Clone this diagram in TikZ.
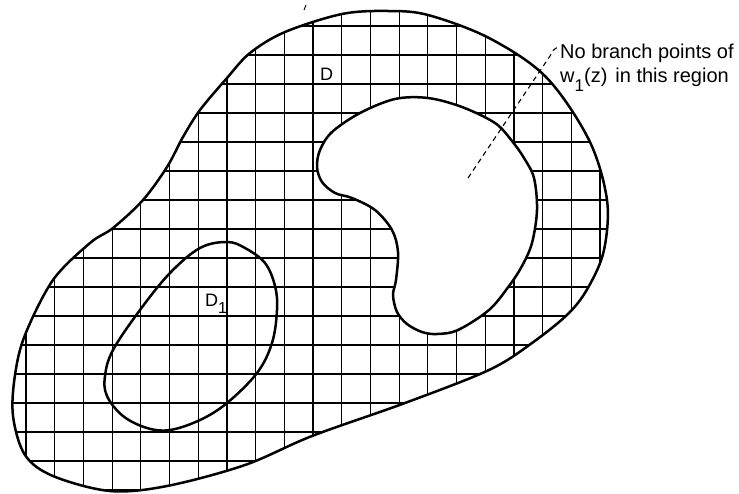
\documentclass[tikz,border=0pt]{standalone}
\usepackage{fontspec}
\setmainfont{Liberation Sans}
\begin{document}
\begin{tikzpicture}[x=1pt,y=-1pt,
  boundary/.style={line width=2.5pt,line join=round},
  gridline/.style={line width=1.2pt},
  leader/.style={line width=1.1pt,dash pattern=on 5pt off 4pt},
  lbl/.style={inner sep=0pt,anchor=base west,font=\fontsize{20}{24}\selectfont},
  dlbl/.style={inner sep=0pt,anchor=base west,font=\fontsize{18}{22}\selectfont}]
\useasboundingbox (0,0) rectangle (739,493);
\def\outerpath{plot[smooth cycle,tension=0.55] coordinates {
 (110,491) (53,476) (25,455) (13,416) (15,375) (25,335) (53,280) (90,243)
 (113,228) (143,200) (167,167) (183,137) (200,110) (227,78) (250,53) (285,32)
 (342,14) (388,11) (428,15) (489,38) (546,77) (589,140) (607,200) (604,250)
 (589,286) (569,313) (532,343) (489,370) (405,403) (312,436) (245,465) (167,486)}}
\def\holepath{plot[smooth cycle,tension=0.55] coordinates {
 (317,167) (322,182) (335,193) (352,198) (375,210) (392,230) (398,252) (396,280)
 (393,295) (397,312) (407,324) (422,332) (437,334) (458,330) (489,310) (509,286)
 (522,266) (532,243) (537,210) (534,178) (524,158) (512,141) (495,123) (462,107)
 (428,98) (395,99) (360,113) (332,132) (320,150)}}
\begin{scope}
 \clip \outerpath;
 \foreach \gx in {26.0,54.7,83.4,112.1,140.8,169.5,198.2,226.9,255.6,284.3,313.0,
   341.7,370.4,399.1,427.8,456.5,485.2,513.9,542.6,571.3,600.0}
   \draw[gridline] (\gx,0) -- (\gx,493);
 \foreach \gy in {26,55,84,113,142,171,200,229,258,287,316,345,374,403,432,461,490}
   \draw[gridline] (0,\gy) -- (739,\gy);
\end{scope}
\fill[white] \holepath;
\draw[boundary] \outerpath;
\draw[boundary] \holepath;
\draw[boundary] plot[smooth cycle,tension=0.6] coordinates {
 (227,242) (245,248) (265,263) (275,286) (277,310) (272,343) (257,373) (227,403)
 (200,420) (170,430) (147,428) (123,416) (107,396) (105,376) (113,350) (140,310)
 (170,273) (200,248)};
% stray tick at top
\draw[line width=1pt] (304,10) -- (306,5);
% labels
\node[dlbl] (labD) at (320,80) {D};
\node[dlbl] (labDone) at (205,306) {D\raisebox{-7pt}{\fontsize{16}{16}\selectfont 1}};
\node[lbl] (noteA) at (560,58) {No branch points of};
\node[lbl] (noteB) at (560,82) {w\raisebox{-9pt}{\fontsize{17}{17}\selectfont 1}(z)\hspace{8pt}in this region};
\coordinate (holept) at (468,178);
\coordinate (hookend) at (558,47);
\draw[leader] (holept) -- (550,56) .. controls (553,50) .. (hookend);
\end{tikzpicture}
\end{document}
